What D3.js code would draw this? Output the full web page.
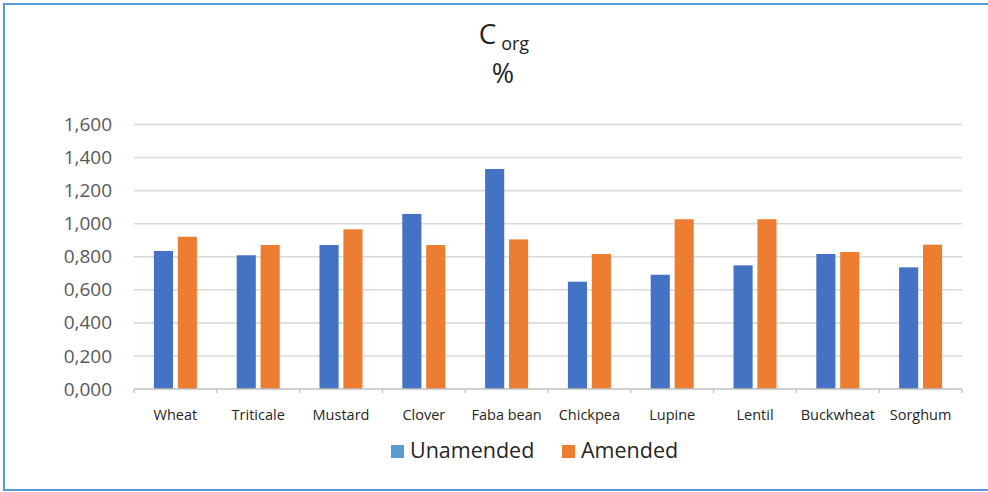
<!DOCTYPE html>
<html>
<head>
<meta charset="utf-8">
<script src="https://cdn.jsdelivr.net/npm/d3@7"></script>
<style>
  html, body { margin: 0; padding: 0; background: #fff; }
  svg { display: block; font-family: "Open Sans", sans-serif; }
</style>
</head>
<body>
<svg id="chart" width="988" height="492"></svg>
<script>
// Organic carbon (C org, %) per cover crop, unamended vs amended soil
const crops = ["Wheat", "Triticale", "Mustard", "Clover", "Faba bean", "Chickpea", "Lupine", "Lentil", "Buckwheat", "Sorghum"];
const seriesNames = ["Unamended", "Amended"];
const unamended = [0.835, 0.809, 0.871, 1.059, 1.331, 0.649, 0.691, 0.748, 0.817, 0.736];
const amended   = [0.921, 0.871, 0.966, 0.871, 0.905, 0.817, 1.027, 1.027, 0.829, 0.873];
const yTicks = [0, 0.2, 0.4, 0.6, 0.8, 1.0, 1.2, 1.4, 1.6];

const barColors = ["#4472C4", "#ED7D31"];
const legendColors = ["#5B9BD5", "#ED7D31"];

const svg = d3.select("#chart");

// outer frame (open on the right)
svg.append("path")
  .attr("d", "M 990 4 L 4 4 L 4 490 L 990 490")
  .attr("fill", "none")
  .attr("stroke", "#5B9BD5")
  .attr("stroke-width", 2.2);

const plot = { left: 134, right: 962, top: 124.5, bottom: 389 };

const x = d3.scaleBand().domain(crops).range([plot.left, plot.right]).padding(0);
const x1 = d3.scaleBand().domain(seriesNames).range([-21.5, 21.5]).paddingInner(0.2);
const y = d3.scaleLinear().domain([0, 1.6]).range([plot.bottom, plot.top]);

// values shown with three decimals and a decimal comma: 1,600 / 0,800 ...
const tickFmt = v => d3.format(".3f")(v).replace(".", ",");

// gridlines
svg.append("g")
  .selectAll("line")
  .data(yTicks.filter(t => t > 0))
  .join("line")
  .attr("x1", plot.left).attr("x2", plot.right)
  .attr("y1", d => y(d)).attr("y2", d => y(d))
  .attr("stroke", "#d9d9d9").attr("stroke-width", 1.6);

// y tick labels
const yAxis = d3.axisLeft(y).tickValues(yTicks).tickFormat(tickFmt).tickSize(0).tickPadding(22);
const yg = svg.append("g").attr("transform", `translate(${plot.left},0)`).call(yAxis);
yg.select(".domain").remove();
yg.selectAll("text")
  .attr("fill", "#595959")
  .style("font-size", "19px")
  .style("font-family", "'Open Sans', sans-serif");

// bars
const groups = svg.append("g")
  .selectAll("g")
  .data(crops.map((c, i) => ({ crop: c, values: [unamended[i], amended[i]] })))
  .join("g")
  .attr("transform", d => `translate(${x(d.crop) + x.bandwidth() / 2},0)`);

groups.selectAll("rect")
  .data(d => d.values.map((v, j) => ({ name: seriesNames[j], v, j })))
  .join("rect")
  .attr("x", d => x1(d.name))
  .attr("width", x1.bandwidth())
  .attr("y", d => y(d.v))
  .attr("height", d => y(0) - y(d.v))
  .attr("fill", d => barColors[d.j]);

// category axis with boundary ticks
const xAxisG = svg.append("g").attr("transform", `translate(0,${plot.bottom})`);
xAxisG.append("line")
  .attr("x1", plot.left).attr("x2", plot.right)
  .attr("y1", 0).attr("y2", 0)
  .attr("stroke", "#bfbfbf").attr("stroke-width", 1.6);
const boundaries = crops.map(c => x(c)).concat([x(crops[crops.length - 1]) + x.bandwidth()]);
xAxisG.selectAll("line.tk")
  .data(boundaries)
  .join("line")
  .attr("class", "tk")
  .attr("x1", d => d).attr("x2", d => d)
  .attr("y1", 0).attr("y2", 4)
  .attr("stroke", "#bfbfbf").attr("stroke-width", 1.3);
xAxisG.selectAll("text")
  .data(crops)
  .join("text")
  .attr("x", d => x(d) + x.bandwidth() / 2)
  .attr("y", 31)
  .attr("text-anchor", "middle")
  .attr("fill", "#262626")
  .style("font-size", "14.5px")
  .text(d => d);

// title: C with subscript "org", then the unit on its own line
const title = svg.append("text")
  .attr("x", 504)
  .attr("y", 44)
  .attr("text-anchor", "middle")
  .attr("fill", "#262626");
title.append("tspan").style("font-size", "28px").text("C");
title.append("tspan").style("font-size", "18px").attr("dy", 6).text(" org");
svg.append("text")
  .attr("x", 503)
  .attr("y", 83)
  .attr("text-anchor", "middle")
  .attr("fill", "#262626")
  .style("font-size", "27px")
  .text("%");

// legend
const legendItems = [
  { name: seriesNames[0], color: legendColors[0], x: 391 },
  { name: seriesNames[1], color: legendColors[1], x: 562 }
];
const lg = svg.append("g");
lg.selectAll("rect")
  .data(legendItems)
  .join("rect")
  .attr("x", d => d.x).attr("y", 445)
  .attr("width", 13).attr("height", 13)
  .attr("fill", d => d.color);
lg.selectAll("text")
  .data(legendItems)
  .join("text")
  .attr("x", d => d.x + 19)
  .attr("y", 458)
  .attr("fill", "#262626")
  .style("font-size", "21.5px")
  .text(d => d.name);
</script>
</body>
</html>
